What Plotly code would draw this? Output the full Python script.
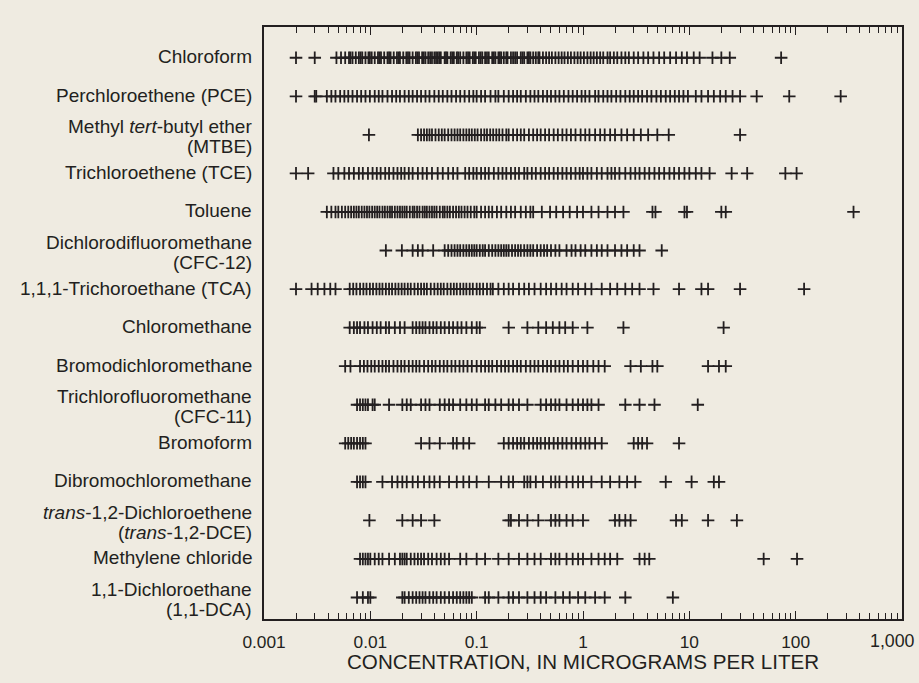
import plotly.graph_objects as go

# ---------------- data ----------------
categories = [
    "Chloroform", "PCE", "MTBE", "TCE", "Toluene", "CFC-12", "TCA",
    "Chloromethane", "Bromodichloromethane", "CFC-11", "Bromoform",
    "Dibromochloromethane", "trans-DCE", "Methylene chloride", "DCA",
]
labels = [
    "Chloroform",
    "Perchloroethene (PCE)",
    "Methyl <i>tert</i>-butyl ether<br>(MTBE)",
    "Trichloroethene (TCE)",
    "Toluene",
    "Dichlorodifluoromethane<br>(CFC-12)",
    "1,1,1-Trichoroethane (TCA)",
    "Chloromethane",
    "Bromodichloromethane",
    "Trichlorofluoromethane<br>(CFC-11)",
    "Bromoform",
    "Dibromochloromethane",
    "<i>trans</i>-1,2-Dichloroethene<br>(<i>trans</i>-1,2-DCE)",
    "Methylene chloride",
    "1,1-Dichloroethane<br>(1,1-DCA)",
]

chloroform = [
    0.002, 0.003, 0.0048, 0.0053, 0.0058, 0.0063, 0.0068, 0.0073, 0.0078, 0.0084,
    0.009, 0.0096, 0.0103, 0.011, 0.0118, 0.0126, 0.0135, 0.0145, 0.0155, 0.0166,
    0.0178, 0.019, 0.0204, 0.0218, 0.0234, 0.025, 0.0268, 0.0287, 0.0307, 0.033,
    0.035, 0.038, 0.04, 0.043, 0.046, 0.05, 0.053, 0.057, 0.061, 0.065, 0.07,
    0.075, 0.08, 0.086, 0.092, 0.098, 0.105, 0.113, 0.12, 0.13, 0.14, 0.15, 0.16,
    0.17, 0.18, 0.195, 0.21, 0.22, 0.24, 0.26, 0.28, 0.3, 0.32, 0.34, 0.36, 0.39,
    0.42, 0.45, 0.48, 0.51, 0.55, 0.59, 0.63, 0.67, 0.72, 0.77, 0.83, 0.89, 0.95,
    1.02, 1.1, 1.18, 1.26, 1.35, 1.45, 1.55, 1.7, 1.8, 1.95, 2.1, 2.3, 2.5, 2.7,
    3.0, 3.3, 3.7, 4.1, 4.6, 5.2, 5.8, 6.6, 7.5, 8.5, 9.5, 11, 12.5, 16.5, 20, 24, 73,
    0.0065, 0.0081, 0.0099, 0.0122, 0.015, 0.0185, 0.0226, 0.0277, 0.0318, 0.0365,
    0.0415, 0.0445, 0.0515, 0.059, 0.067, 0.083, 0.095, 0.109, 0.125, 0.145,
    0.165, 0.19, 0.23, 0.27, 0.31, 0.38,
]
pce = [
    0.002, 0.003, 0.0031, 0.0039, 0.0043, 0.0047, 0.0052, 0.0057, 0.0062, 0.0068,
    0.0075, 0.0082, 0.009, 0.0099, 0.011, 0.012, 0.013, 0.0145, 0.016, 0.0175,
    0.019, 0.021, 0.023, 0.025, 0.0275, 0.03, 0.033, 0.036, 0.04, 0.044, 0.048,
    0.053, 0.058, 0.064, 0.07, 0.077, 0.085, 0.093, 0.1, 0.11, 0.12, 0.135, 0.15,
    0.16, 0.18, 0.2, 0.22, 0.24, 0.26, 0.29, 0.32, 0.35, 0.38, 0.42, 0.46, 0.5,
    0.55, 0.6, 0.66, 0.73, 0.8, 0.88, 0.97, 1.05, 1.15, 1.3, 1.4, 1.55, 1.7, 1.85,
    2.05, 2.25, 2.5, 2.75, 3.0, 3.3, 3.6, 4.0, 4.4, 4.9, 5.4, 6.0, 6.6, 7.3, 8.0,
    8.8, 9.7, 11.5, 13, 15, 17, 19.5, 22, 25.5, 30, 43, 87, 265,
]
mtbe = [
    0.0097, 0.028, 0.03, 0.032, 0.034, 0.036, 0.038, 0.041, 0.044, 0.047, 0.05,
    0.054, 0.058, 0.062, 0.066, 0.07, 0.075, 0.08, 0.085, 0.09, 0.096, 0.102,
    0.11, 0.118, 0.125, 0.134, 0.143, 0.153, 0.163, 0.175, 0.19, 0.2, 0.22, 0.24,
    0.26, 0.28, 0.31, 0.34, 0.37, 0.4, 0.44, 0.48, 0.53, 0.58, 0.64, 0.7, 0.77,
    0.85, 0.95, 1.05, 1.15, 1.3, 1.45, 1.6, 1.8, 2.0, 2.3, 2.6, 3.0, 3.5, 4.1,
    5.0, 6.4, 30,
]
tce = [
    0.002, 0.0026, 0.0045, 0.005, 0.0057, 0.0063, 0.007, 0.0078, 0.0085, 0.0095,
    0.0105, 0.0115, 0.0125, 0.0138, 0.015, 0.0165, 0.018, 0.0195, 0.021, 0.023,
    0.025, 0.028, 0.031, 0.034, 0.038, 0.043, 0.048, 0.054, 0.06, 0.066, 0.078,
    0.085, 0.093, 0.1, 0.11, 0.12, 0.13, 0.145, 0.16, 0.175, 0.19, 0.21, 0.23,
    0.25, 0.28, 0.3, 0.33, 0.36, 0.4, 0.44, 0.48, 0.53, 0.58, 0.64, 0.7, 0.77,
    0.85, 0.93, 1.0, 1.1, 1.2, 1.35, 1.5, 1.7, 1.85, 2.0, 2.2, 2.5, 2.8, 3.1, 3.4,
    3.8, 4.2, 4.7, 5.2, 5.8, 6.5, 7.2, 8.0, 9.0, 10, 11.5, 13, 15.5, 25, 35, 80, 102,
]
toluene = [
    0.0039, 0.0043, 0.0047, 0.005, 0.0054, 0.0058, 0.0062, 0.0066, 0.007, 0.0074,
    0.0078, 0.0083, 0.0088, 0.0093, 0.0098, 0.0104, 0.011, 0.0116, 0.0122, 0.013,
    0.0137, 0.0145, 0.0153, 0.016, 0.017, 0.018, 0.019, 0.02, 0.021, 0.022, 0.0235,
    0.025, 0.026, 0.0275, 0.029, 0.031, 0.0325, 0.034, 0.036, 0.038, 0.04, 0.042,
    0.045, 0.048, 0.05, 0.053, 0.056, 0.06, 0.064, 0.068, 0.072, 0.077, 0.082,
    0.088, 0.095, 0.1, 0.11, 0.12, 0.13, 0.14, 0.155, 0.17, 0.19, 0.21, 0.23,
    0.26, 0.29, 0.32, 0.34, 0.41, 0.49, 0.56, 0.65, 0.75, 0.88, 1.0, 1.2, 1.4,
    1.7, 2.0, 2.4, 4.5, 4.8, 9.0, 9.5, 20, 22, 350,
]
cfc12 = [
    0.014, 0.0198, 0.025, 0.028, 0.031, 0.039, 0.05, 0.054, 0.058, 0.062, 0.066,
    0.07, 0.075, 0.08, 0.085, 0.09, 0.095, 0.1, 0.107, 0.114, 0.12, 0.13, 0.14,
    0.15, 0.16, 0.17, 0.18, 0.19, 0.2, 0.215, 0.23, 0.245, 0.26, 0.28, 0.3, 0.32,
    0.34, 0.37, 0.4, 0.43, 0.46, 0.5, 0.55, 0.6, 0.7, 0.78, 0.85, 0.95, 1.05,
    1.2, 1.35, 1.5, 1.7, 2.0, 2.3, 2.6, 3.0, 3.4, 5.5,
]
tca = [
    0.002, 0.0028, 0.0032, 0.0037, 0.0042, 0.0047, 0.0064, 0.0069, 0.0074, 0.008,
    0.0086, 0.0092, 0.0099, 0.0106, 0.0114, 0.0122, 0.013, 0.014, 0.015, 0.016,
    0.0172, 0.0184, 0.0197, 0.021, 0.0225, 0.024, 0.026, 0.028, 0.03, 0.032,
    0.034, 0.037, 0.04, 0.043, 0.046, 0.049, 0.053, 0.057, 0.061, 0.065, 0.07,
    0.075, 0.08, 0.086, 0.092, 0.1, 0.107, 0.115, 0.125, 0.135, 0.142, 0.16,
    0.18, 0.2, 0.22, 0.25, 0.28, 0.31, 0.35, 0.4, 0.45, 0.5, 0.56, 0.63, 0.7,
    0.8, 0.9, 1.05, 1.2, 1.5, 1.8, 2.1, 2.5, 2.9, 3.4, 4.6, 8.0, 13, 15, 30, 120,
]
chloromethane = [
    0.0064, 0.007, 0.0075, 0.008, 0.0088, 0.0095, 0.0105, 0.0115, 0.0125, 0.014,
    0.015, 0.017, 0.019, 0.021, 0.025, 0.027, 0.029, 0.031, 0.033, 0.036, 0.039,
    0.042, 0.046, 0.05, 0.055, 0.06, 0.066, 0.072, 0.08, 0.09, 0.1, 0.107, 0.2,
    0.3, 0.38, 0.45, 0.52, 0.6, 0.68, 0.8, 1.1, 2.4, 21,
]
bromodichloromethane = [
    0.0058, 0.0065, 0.008, 0.0087, 0.0094, 0.0102, 0.011, 0.012, 0.013, 0.014,
    0.015, 0.0165, 0.018, 0.0195, 0.021, 0.023, 0.025, 0.027, 0.029, 0.032,
    0.035, 0.038, 0.041, 0.045, 0.049, 0.053, 0.058, 0.063, 0.069, 0.075, 0.082,
    0.09, 0.1, 0.11, 0.12, 0.13, 0.14, 0.155, 0.17, 0.185, 0.2, 0.22, 0.24, 0.26,
    0.29, 0.32, 0.35, 0.38, 0.42, 0.46, 0.5, 0.55, 0.6, 0.66, 0.72, 0.8, 0.9,
    1.0, 1.1, 1.25, 1.4, 1.6, 2.8, 3.5, 4.5, 5.0, 15, 19, 22,
]
cfc11 = [
    0.0075, 0.008, 0.0085, 0.009, 0.0095, 0.0105, 0.011, 0.015, 0.02, 0.022,
    0.024, 0.03, 0.033, 0.036, 0.045, 0.05, 0.055, 0.06, 0.07, 0.08, 0.09, 0.1,
    0.12, 0.13, 0.15, 0.17, 0.2, 0.22, 0.25, 0.3, 0.4, 0.45, 0.5, 0.55, 0.6, 0.7,
    0.8, 0.9, 1.0, 1.1, 1.2, 1.4, 2.5, 3.4, 4.7, 12,
]
bromoform = [
    0.0058, 0.0062, 0.0066, 0.007, 0.0075, 0.008, 0.0085, 0.009, 0.03, 0.036,
    0.045, 0.06, 0.065, 0.075, 0.085, 0.18, 0.2, 0.22, 0.24, 0.26, 0.28, 0.31,
    0.34, 0.37, 0.4, 0.44, 0.48, 0.53, 0.58, 0.64, 0.7, 0.78, 0.86, 0.95, 1.05,
    1.15, 1.3, 1.5, 3.0, 3.3, 3.6, 4.0, 8.0,
]
dibromochloromethane = [
    0.0075, 0.008, 0.0085, 0.009, 0.013, 0.016, 0.018, 0.02, 0.022, 0.025, 0.028,
    0.032, 0.036, 0.04, 0.045, 0.055, 0.065, 0.075, 0.085, 0.1, 0.13, 0.17, 0.2,
    0.22, 0.28, 0.3, 0.32, 0.36, 0.42, 0.5, 0.55, 0.6, 0.7, 0.8, 0.9, 1.0, 1.2,
    1.5, 1.8, 2.2, 2.6, 3.1, 6.0, 10.5, 17, 19,
]
trans_dce = [
    0.0098, 0.02, 0.025, 0.03, 0.04, 0.2, 0.21, 0.25, 0.3, 0.38, 0.5, 0.55, 0.6,
    0.7, 0.8, 1.0, 2.0, 2.2, 2.5, 2.8, 7.5, 8.5, 15, 28,
]
methylene_chloride = [
    0.008, 0.0085, 0.009, 0.0095, 0.01, 0.011, 0.012, 0.013, 0.015, 0.017, 0.019,
    0.02, 0.021, 0.022, 0.024, 0.026, 0.028, 0.03, 0.032, 0.035, 0.038, 0.042,
    0.046, 0.05, 0.055, 0.07, 0.08, 0.1, 0.12, 0.16, 0.2, 0.25, 0.3, 0.35, 0.4,
    0.5, 0.55, 0.6, 0.7, 0.8, 0.9, 1.0, 1.2, 1.4, 1.6, 1.8, 2.1, 3.4, 3.8, 4.2,
    50, 103,
]
dca = [
    0.0075, 0.0085, 0.0095, 0.01, 0.02, 0.021, 0.023, 0.025, 0.027, 0.029, 0.031,
    0.033, 0.036, 0.039, 0.042, 0.046, 0.05, 0.055, 0.06, 0.065, 0.07, 0.075,
    0.08, 0.085, 0.09, 0.12, 0.13, 0.16, 0.2, 0.22, 0.25, 0.3, 0.35, 0.4, 0.45,
    0.55, 0.65, 0.75, 0.9, 1.05, 1.3, 1.6, 2.5, 7.0,
]

series = [
    chloroform, pce, mtbe, tce, toluene, cfc12, tca, chloromethane,
    bromodichloromethane, cfc11, bromoform, dibromochloromethane, trans_dce,
    methylene_chloride, dca,
]

x_tickvals = [0.001, 0.01, 0.1, 1, 10, 100, 1000]
x_ticktext = ["0.001", "0.01", "0.1", "1", "10", "100", "1,000"]
x_title = "CONCENTRATION, IN MICROGRAMS PER LITER"

# ---------------- styling ----------------
INK = "#231F20"
BG = "#EFEBE1"
FONT = "Liberation Sans, Arial, Helvetica, sans-serif"

minor_vals = [m * 10 ** e for e in range(-3, 3) for m in range(2, 10)]

fig = go.Figure()
for cat, vals in zip(categories, series):
    fig.add_trace(go.Scatter(
        x=vals, y=[cat] * len(vals), mode="markers", showlegend=False,
        marker=dict(symbol="cross-thin", size=9, color=INK,
                    line=dict(width=1.8, color=INK)),
        hoverinfo="x+y",
    ))

# category labels on the left: right-aligned, tight line spacing
for cat, lab in zip(categories, labels):
    lines = lab.split("<br>")
    shifts = [1] if len(lines) == 1 else [8, -12]
    for line, ys in zip(lines, shifts):
        fig.add_annotation(
            text=line, xref="paper", yref="y", x=-0.0157, y=cat,
            xanchor="right", yanchor="middle", yshift=ys, showarrow=False,
            font=dict(size=19, color=INK, family=FONT),
        )

fig.update_layout(
    width=919, height=683,
    margin=dict(l=264, r=17, t=27, b=64),
    paper_bgcolor=BG, plot_bgcolor=BG,
    font=dict(family=FONT, color=INK, size=17),
)
# the last tick label sits flush against the right edge of the page,
# so it is drawn as an annotation instead of an axis label
fig.update_xaxes(
    type="log", range=[-3, 3],
    tickmode="array", tickvals=x_tickvals,
    ticktext=x_ticktext[:-1] + [""],
    ticks="inside", ticklen=8, tickwidth=1, tickcolor=INK,
    minor=dict(tickmode="array", tickvals=minor_vals, ticks="inside",
               ticklen=6, tickwidth=1, tickcolor=INK, showgrid=False),
    showline=True, linecolor=INK, linewidth=1.5, mirror="ticks",
    showgrid=False, zeroline=False,
    tickfont=dict(size=17.3, color=INK, family=FONT),
    ticklabelstandoff=6,
)
fig.add_annotation(
    text=x_ticktext[-1], xref="paper", yref="paper", x=1, y=-0.0372,
    xanchor="right", yanchor="middle", xshift=15, showarrow=False,
    font=dict(size=17.8, color=INK, family=FONT),
)
fig.update_yaxes(
    type="category", categoryorder="array", categoryarray=categories,
    range=[14.558, -0.798], showticklabels=False,
    ticks="", showline=True, linecolor=INK, linewidth=1.5, mirror=True,
    showgrid=False, zeroline=False,
)
fig.add_annotation(
    text=x_title, xref="paper", yref="paper", x=0.5, y=-0.0726,
    xanchor="center", yanchor="middle", showarrow=False,
    font=dict(size=20.6, color=INK, family=FONT),
)

fig.write_html(
    "out.html",
    config={"displayModeBar": False},
    post_script="document.body.style.margin='0';"
                "document.body.style.background='" + BG + "';",
)
